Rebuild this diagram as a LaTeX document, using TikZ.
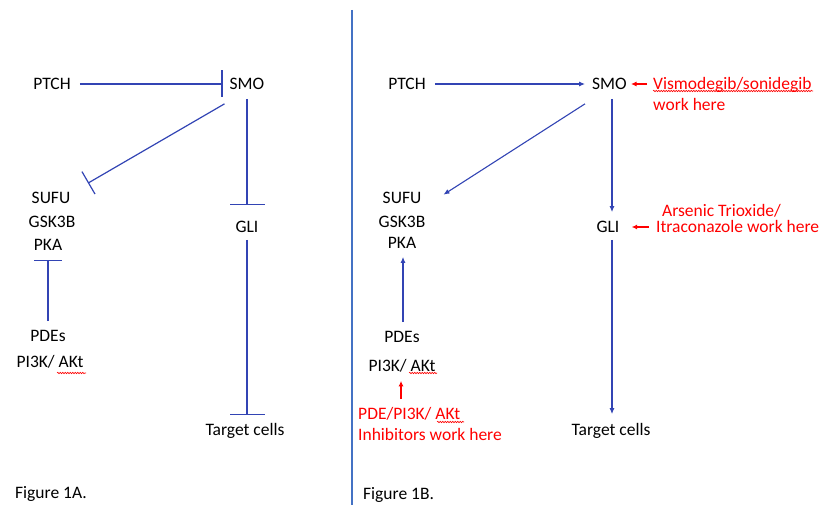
\documentclass[tikz,border=0pt]{standalone}
\usepackage{fontspec}
\setmainfont{Carlito}
\usetikzlibrary{arrows.meta,calc,decorations.pathmorphing}
\definecolor{lineblue}{RGB}{50,68,180}
\definecolor{divblue}{RGB}{68,114,196}
\begin{document}
\begin{tikzpicture}[x=1pt,y=-1pt,
  lbl/.style={inner sep=0pt,text height=11.3pt,text depth=0pt,font=\fontsize{17.5}{21}\selectfont},
  note/.style={lbl,anchor=west,text=red},
  inh/.style={draw=lineblue,line width=1.2pt,-{Bar[width=#1]}},
  act/.style={draw=lineblue,line width=1.1pt,-{Latex[length=6pt,width=5pt]}},
  ract/.style={draw=red,line width=1.1pt,-{Latex[length=5.5pt,width=5pt]}},
  squig/.style={draw=red,line width=0.6pt,decorate,decoration={snake,amplitude=0.7pt,segment length=2.5pt}}
]
\useasboundingbox (0,0) rectangle (829,505);

% ---------- Figure 1A ----------
\node[lbl] (ptchA) at (52,84) {PTCH};
\node[lbl] (smoA) at (247,84) {SMO};
\node[lbl] (sufuA) at (51,198) {SUFU};
\node[lbl] (gskA) at (52,222) {GSK3B};
\node[lbl] (pkaA) at (48,245) {PKA};
\node[lbl] (gliA) at (247,227) {GLI};
\node[lbl] (pdesA) at (48,336) {PDEs};
\node[lbl] (pi3kA) at (50,362) {PI3K/ AKt};
\node[lbl] (targetA) at (245,430) {Target cells};
\node[lbl,anchor=west] (figA) at (15,493) {Figure 1A.};

\draw[inh=27pt] ([xshift=9pt]ptchA.east) -- ([xshift=-7pt]smoA.west);
\draw[inh=26pt] ([shift={(-5pt,-14pt)}]smoA.south west) -- ([shift={(17.5pt,9pt)}]sufuA.north east);
\draw[inh=35pt] ([yshift=-9pt]smoA.south) -- ([yshift=16pt]gliA.north);
\draw[inh=35pt] ([yshift=-7pt]gliA.south) -- ($(gliA.south |- targetA.north)+(0pt,9pt)$);
\draw[inh=28pt] ($(pdesA.north)+(0pt,9pt)$) -- ($(pkaA.south)+(0pt,-9pt)$);
\draw[squig] (57,373) -- (86,373);

% ---------- divider ----------
\draw[divblue,line width=1.3pt] (352,10) -- (352,505);

% ---------- Figure 1B ----------
\node[lbl] (ptchB) at (407,84) {PTCH};
\node[lbl] (smoB) at (609.5,84) {SMO};
\node[note] (visB) at (653,84) {Vismodegib/sonidegib};
\node[note] (workB) at (653,105) {work here};
\node[lbl] (sufuB) at (402,197.5) {SUFU};
\node[lbl] (gskB) at (402,222) {GSK3B};
\node[lbl] (pkaB) at (402,243) {PKA};
\node[lbl] (gliB) at (608,227) {GLI};
\node[note] (arsB) at (662,211) {Arsenic Trioxide/};
\node[note] (itraB) at (656,227) {Itraconazole work here};
\node[lbl] (pdesB) at (402,337) {PDEs};
\node[lbl] (pi3kB) at (402,366) {PI3K/ AKt};
\node[note] (pdeB) at (358,414) {PDE/PI3K/ AKt};
\node[note] (inhB) at (358,435) {Inhibitors work here};
\node[lbl] (targetB) at (611,430) {Target cells};
\node[lbl,anchor=west] (figB) at (363,494) {Figure 1B.};

\draw[act] ([xshift=9pt]ptchB.east) -- ([xshift=-7pt]smoB.west);
\draw[ract] ([xshift=-6pt]visB.west) -- ([xshift=4pt]smoB.east);
\draw[act] ([shift={(-7pt,-14pt)}]smoB.south west) -- ([shift={(22pt,-3pt)}]sufuB.north east);
\draw[act] ($(smoB.south)+(2.5pt,-9pt)$) -- ($(gliB.north)+(4pt,9pt)$);
\draw[ract] ([xshift=-7pt]itraB.west) -- ([xshift=12pt]gliB.east);
\draw[act] ($(gliB.south)+(4pt,-7pt)$) -- ($(gliB.south |- targetB.north)+(4pt,10pt)$);
\draw[act] ($(pdesB.north)+(1pt,9pt)$) -- ($(pkaB.south)+(1pt,-8pt)$);
\draw[ract] ($(pdeB.north -| pi3kB.south)+(-1pt,9pt)$) -- ($(pi3kB.south)+(-1pt,-9pt)$);

\draw[squig] (409,373) -- (437,373);
\draw[squig] (437,422) -- (464,422);
\draw[squig] (653,91) -- (813,91);
\end{tikzpicture}
\end{document}
